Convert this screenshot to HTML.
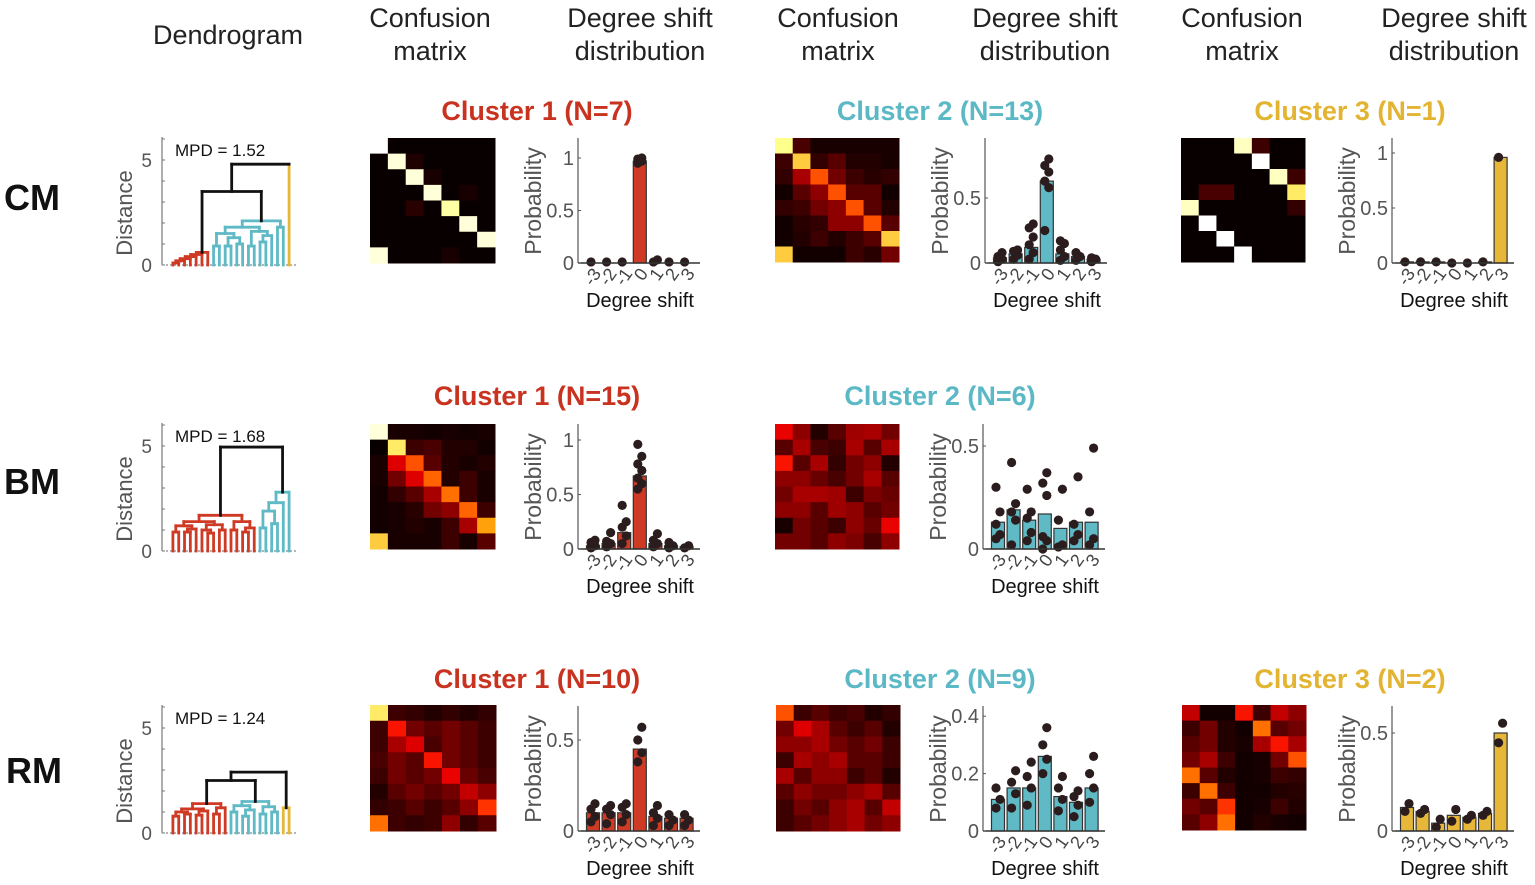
<!DOCTYPE html>
<html><head><meta charset="utf-8"><style>
html,body{margin:0;padding:0;background:#fff;}
svg{display:block;font-family:"Liberation Sans",sans-serif;}
</style></head><body>
<svg id="fig" width="1535" height="885" viewBox="0 0 1535 885">
<rect width="1535" height="885" fill="#fff"/>
<g font-size="27" fill="#222" text-anchor="middle">
<text x="228" y="44">Dendrogram</text>
<text x="430" y="27">Confusion</text><text x="430" y="60">matrix</text>
<text x="640" y="27">Degree shift</text><text x="640" y="60">distribution</text>
<text x="838" y="27">Confusion</text><text x="838" y="60">matrix</text>
<text x="1045" y="27">Degree shift</text><text x="1045" y="60">distribution</text>
<text x="1242" y="27">Confusion</text><text x="1242" y="60">matrix</text>
<text x="1454" y="27">Degree shift</text><text x="1454" y="60">distribution</text>
</g>
<g font-size="36" font-weight="bold" fill="#111" text-anchor="middle">
<text x="32" y="210">CM</text>
<text x="32" y="494">BM</text>
<text x="34" y="783">RM</text>
</g>
<g font-size="27" font-weight="bold" text-anchor="middle">
<text x="537" y="120" fill="#c8321f">Cluster 1 (N=7)</text>
<text x="940" y="120" fill="#5bb8c5">Cluster 2 (N=13)</text>
<text x="1350" y="120" fill="#e3b431">Cluster 3 (N=1)</text>
<text x="537" y="405" fill="#c8321f">Cluster 1 (N=15)</text>
<text x="940" y="405" fill="#5bb8c5">Cluster 2 (N=6)</text>
<text x="537" y="688" fill="#c8321f">Cluster 1 (N=10)</text>
<text x="940" y="688" fill="#5bb8c5">Cluster 2 (N=9)</text>
<text x="1350" y="688" fill="#e3b431">Cluster 3 (N=2)</text>
</g>
</svg>
<script>
// ---------- data ----------
const shiftCategories = ["-3","-2","-1","0","1","2","3"];
const mpdLabels = ["MPD = 1.52","MPD = 1.68","MPD = 1.24"];
// dendrogram trees: 0 = leaf, [height, left, right], {c: colour, n: node}
const dendroCM = [4.8, [3.5,
  {c:"red", n:[0.6,[0.5,[0.4,[0.3,[0.2,[0.1,0,0],0],0],0],0],0]},
  {c:"teal", n:[2.1,[1.8,[1.5,[0.9,0,0],[1.3,[0.9,0,0],[1.0,0,0]]],[1.6,[0.9,0,0],[1.4,[1.1,0,0],0]]],[1.8,0,0]]}],
  {c:"gold", n:0}];
const dendroBM = [4.95,
  {c:"red", n:[1.7,[1.4,[1.2,[0.9,0,0],[1.05,[0.9,0,0],0]],[1.25,[1.0,0,[0.85,0,0]],[1.0,0,0]]],[1.4,[1.0,0,0],[1.1,[0.9,0,0],0]]]},
  {c:"teal", n:[2.8,[2.3,[1.9,[1.1,0,0],[1.3,0,0]],0],0]}];
const dendroRM = [2.9, [2.5,
  {c:"red", n:[1.4,[1.15,[1.0,[0.8,0,0],[0.9,0,0]],[1.05,[0.85,0,0],0]],[1.2,[0.9,0,0],0]]},
  {c:"teal", n:[1.5,[1.3,[1.0,0,0],[1.1,[0.8,0,0],0]],[1.25,[0.9,0,0],[1.0,0,0]]]}],
  {c:"gold", n:[1.2,0,0]}];

// confusion matrices (8 rows x 7 cols, 0..1, hot colormap)
const cmC1 = [[1,0,0,0,0,0,0],[0,.95,.04,0,0,0,0],[0,0,.95,.03,0,0,0],[0,0,0,.95,0,.03,0],[0,0,.06,0,.88,0,0],[0,0,0,0,0,.95,0],[0,0,0,0,0,0,.95],[.95,0,0,0,.03,0,0]];
const cmC2 = [[.85,.12,.03,.03,.03,.03,.03],[.1,.75,.08,.15,.05,.05,.03],[.08,.3,.55,.2,.1,.06,.08],[.02,.15,.25,.55,.15,.15,.02],[.08,.1,.2,.25,.55,.15,.05],[.02,.06,.08,.25,.25,.55,.15],[.02,.05,.1,.05,.1,.15,.75],[.75,.02,.02,.02,.1,.06,.2]];
const cmC3 = [[0,0,0,.92,.1,0,0],[0,0,0,0,1,0,0],[0,0,0,0,0,.92,.1],[0,.12,.12,0,0,0,.8],[.92,0,0,0,0,0,.08],[0,1,0,0,0,0,0],[0,0,1,0,0,0,0],[0,0,0,1,0,0,0]];
const bmC1 = [[.95,.03,.03,.02,.03,.02,.03],[0,.8,.1,.12,.05,.05,.02],[.03,.4,.55,.15,.05,.03,.05],[.03,.2,.4,.58,.05,.1,.03],[.02,.08,.15,.3,.6,.1,.03],[.02,.03,.06,.2,.25,.58,.1],[.02,.03,.05,.03,.1,.3,.68],[.75,.03,.03,.03,.1,.03,.15]];
const bmC2 = [[.42,.25,.05,.15,.28,.3,.2],[.15,.3,.12,.1,.3,.15,.3],[.45,.15,.3,.08,.2,.25,.05],[.25,.25,.18,.12,.2,.3,.15],[.2,.3,.3,.28,.1,.22,.18],[.25,.25,.15,.28,.25,.15,.2],[.03,.2,.15,.1,.25,.18,.42],[.2,.2,.15,.25,.22,.12,.25]];
const rmC1 = [[.8,.1,.08,.05,.08,.05,.08],[.1,.45,.2,.15,.2,.15,.1],[.1,.3,.4,.12,.2,.15,.1],[.12,.2,.15,.45,.2,.15,.1],[.1,.2,.15,.2,.42,.18,.12],[.05,.15,.2,.15,.2,.35,.25],[.08,.1,.15,.1,.15,.25,.5],[.6,.1,.08,.1,.25,.08,.15]];
const rmC2 = [[.55,.1,.15,.1,.12,.05,.08],[.2,.4,.3,.15,.1,.15,.05],[.25,.25,.3,.2,.15,.2,.1],[.1,.3,.25,.3,.15,.15,.1],[.3,.15,.25,.25,.1,.15,.05],[.15,.25,.2,.2,.25,.3,.15],[.1,.2,.15,.25,.3,.15,.35],[.1,.15,.2,.25,.3,.2,.25]];
const rmC3 = [[.35,.02,.02,.45,.1,.35,.25],[.1,.2,.05,.02,.6,.15,.2],[.15,.2,.05,.03,.3,.45,.3],[.2,.3,.1,.02,.03,.2,.55],[.6,.15,.05,.02,.03,.1,.08],[.1,.6,.1,.02,.02,.05,.06],[.2,.15,.5,.02,.03,.1,.05],[.15,.25,.6,.02,.05,.03,.02]];

// bar values (mean probability per degree shift) and individual dots
const cmC1Vals = [0,0,0,0.97,0,0,0];
const cmC1Dots = [[0.01],[0.01],[0.01],[0.95,0.97,0.99,1.0],[0.01,0.03],[0.01],[0.01]];
const cmC2Vals = [0.04,0.07,0.12,0.63,0.07,0.05,0.03];
const cmC2Dots = [[0.01,0.03,0.05,0.08],[0.03,0.06,0.09,0.1],[0.03,0.08,0.14,0.2,0.27,0.3],[0.25,0.58,0.63,0.7,0.75,0.8],[0.02,0.05,0.1,0.15,0.17],[0.02,0.05,0.08],[0.01,0.03,0.04]];
const cmC3Vals = [0.01,0.01,0.01,0,0,0.01,0.96];
const cmC3Dots = [[0.01],[0.01],[0.01],[0],[0],[0.01],[0.96]];
const bmC1Vals = [0.03,0.05,0.15,0.67,0.05,0.03,0.02];
const bmC1Dots = [[0.01,0.03,0.06,0.08],[0.02,0.05,0.07,0.15],[0.05,0.12,0.2,0.25,0.4],[0.55,0.6,0.65,0.72,0.78,0.85,0.96],[0.02,0.05,0.08,0.14],[0.01,0.03,0.06],[0.01,0.03]];
const bmC2Vals = [0.13,0.19,0.14,0.17,0.10,0.13,0.13];
const bmC2Dots = [[0.05,0.07,0.12,0.18,0.3],[0.02,0.14,0.18,0.22,0.42],[0.04,0.08,0.15,0.18,0.29],[0.0,0.04,0.06,0.26,0.32,0.37],[0.01,0.02,0.14,0.29],[0.04,0.07,0.12,0.35],[0.02,0.05,0.18,0.49]];
const rmC1Vals = [0.10,0.10,0.10,0.45,0.08,0.07,0.07];
const rmC1Dots = [[0.05,0.08,0.12,0.15],[0.04,0.09,0.12,0.14],[0.05,0.09,0.13,0.15],[0.38,0.43,0.5,0.57],[0.03,0.07,0.1,0.14],[0.03,0.06,0.09],[0.03,0.06,0.09]];
const rmC2Vals = [0.11,0.15,0.15,0.26,0.12,0.10,0.15];
const rmC2Dots = [[0.08,0.11,0.15],[0.08,0.13,0.17,0.21],[0.09,0.15,0.19,0.24],[0.2,0.25,0.3,0.36],[0.07,0.11,0.15,0.19],[0.05,0.09,0.12,0.14],[0.1,0.15,0.2,0.26]];
const rmC3Vals = [0.12,0.10,0.04,0.08,0.07,0.09,0.50];
const rmC3Dots = [[0.1,0.14],[0.09,0.11],[0.02,0.06],[0.05,0.11],[0.06,0.08],[0.08,0.1],[0.45,0.55]];

const ticksHalfOne = [0,0.5,1], ticksHalf = [0,0.5], ticksTwoFour = [0,0.2,0.4];
const tickLabelsHalfOne = ["0","0.5","1"], tickLabelsHalf = ["0","0.5"], tickLabelsTwoFour = ["0","0.2","0.4"];

// ---------- drawing ----------
const NS = "http://www.w3.org/2000/svg";
const svg = document.getElementById("fig");
function mk(tag, attrs, parent) {
  const e = document.createElementNS(NS, tag);
  for (const k in attrs) e.setAttribute(k, attrs[k]);
  (parent || svg).appendChild(e);
  return e;
}
const COLORS = {red:"#cf3a24", teal:"#5fbac6", gold:"#e7b73a", black:"#111"};

function hot(v) {
  const c = x => Math.round(255 * Math.max(0, Math.min(1, x)));
  return "rgb(" + c(v * 2.1 + 0.03) + "," + c(v * 2.4 - 1.0) + "," + c(v * 3 - 2) + ")";
}

function drawMatrix(m, x, y, w, h, name) {
  const g = mk("g", {});
  
  
  const cw = w / m[0].length, ch = h / m.length;
  m.forEach((row, r) => row.forEach((v, c) => {
    const cell = mk("rect", {x: x + c * cw, y: y + r * ch, width: cw + 0.5, height: ch + 0.5, fill: hot(v)}, g);
    
    
  }));
}

function countLeaves(n) {
  if (n === 0) return 1;
  if (!Array.isArray(n)) return countLeaves(n.n);
  return countLeaves(n[1]) + countLeaves(n[2]);
}

function drawDendro(tree, ax, y0, label, name) {
  const g = mk("g", {});
  
  
  const sy = v => y0 - v * 21;
  const yl = mk("line", {x1: ax, y1: y0 - 128, x2: ax, y2: y0, stroke: "#777", "stroke-width": 1.2}, g);
  
  
  for (let t = 0; t <= 6; t++) mk("line", {x1: ax, y1: sy(t), x2: ax + 3, y2: sy(t), stroke: "#777"}, g);
  const xl = mk("line", {x1: ax, y1: y0, x2: ax + 134, y2: y0, stroke: "#888", "stroke-width": 1.2, "stroke-dasharray": "2 2"}, g);
  
  
  [[0, "0"], [5, "5"]].forEach(([v, s]) => {
    const t = mk("text", {x: ax - 10, y: sy(v) + 7, "font-size": 19, fill: "#555", "text-anchor": "end"}, g);
    t.textContent = s;
    
    
  });
  const yt = mk("text", {transform: "translate(" + (ax - 30) + "," + (y0 - 52) + ") rotate(-90)", "font-size": 22, fill: "#555", "text-anchor": "middle"}, g);
  yt.textContent = "Distance";
  
  
  const mp = mk("text", {x: ax + 13, y: y0 - 109, "font-size": 17, fill: "#111"}, g);
  mp.textContent = label;
  
  
  const n = countLeaves(tree);
  const spacing = 122 / n;
  let leafIdx = 0;
  function line(x1, y1, x2, y2, col) {
    const l = mk("line", {x1, y1, x2, y2, stroke: COLORS[col], "stroke-width": 2.8, "stroke-linecap": "square"}, g);
    
    
  }
  function walk(node, col) {
    if (node === 0) { const x = ax + 8 + spacing * (leafIdx++ + 0.5); return {x, h: 0, leaf: true, col}; }
    if (!Array.isArray(node)) { const r = walk(node.n, node.c); r.col = node.c; return r; }
    const a = walk(node[1], col), b = walk(node[2], col);
    const h = node[0];
    const ca = a.leaf ? a.col : col;
    const cb = b.leaf ? b.col : col;
    line(a.x, sy(a.h), a.x, sy(h), ca);
    line(b.x, sy(b.h), b.x, sy(h), cb);
    line(a.x, sy(h), b.x, sy(h), col);
    return {x: (a.x + b.x) / 2, h, leaf: false, col};
  }
  walk(tree, "black");
}

function drawBars(vals, dots, ticks, tickLabels, scale, ax, y0, color, name) {
  const g = mk("g", {});
  
  
  const sy = v => y0 - v * scale;
  const bx = i => ax + 15 + i * 15.6;
  vals.forEach((v, i) => {
    const r = mk("rect", {x: bx(i) - 6.5, y: sy(v), width: 13, height: Math.max(0, v * scale), fill: COLORS[color], stroke: "#333", "stroke-width": 1.2}, g);
    
    
  });
  dots.forEach((arr, i) => arr.forEach((v, k) => {
    const c = mk("circle", {cx: bx(i) + (k % 2 ? 2 : -2), cy: sy(v), r: 4.6, fill: "#2b1d1d"}, g);
    
    
  }));
  const yl = mk("line", {x1: ax, y1: y0 - 125, x2: ax, y2: y0, stroke: "#555", "stroke-width": 1.2}, g);
  
  
  const xl = mk("line", {x1: ax, y1: y0, x2: ax + 122, y2: y0, stroke: "#333", "stroke-width": 1.5}, g);
  
  
  ticks.forEach((t, i) => {
    mk("line", {x1: ax, y1: sy(t), x2: ax + 3, y2: sy(t), stroke: "#555"}, g);
    const tx = mk("text", {x: ax - 4, y: sy(t) + 7, "font-size": 20, fill: "#555", "text-anchor": "end"}, g);
    tx.textContent = tickLabels[i];
    
    
  });
  shiftCategories.forEach((s, i) => {
    const tx = mk("text", {transform: "translate(" + (bx(i) + 5) + "," + (y0 + 8) + ") rotate(-55)", "font-size": 18, fill: "#444", "text-anchor": "end", "dominant-baseline": "middle"}, g);
    tx.textContent = s;
    
    
  });
  const xt = mk("text", {x: ax + 62, y: y0 + 44, "font-size": 20, fill: "#111", "text-anchor": "middle"}, g);
  xt.textContent = "Degree shift";
  
  
  const yt = mk("text", {transform: "translate(" + (ax - 37) + "," + (y0 - 62) + ") rotate(-90)", "font-size": 23, fill: "#555", "text-anchor": "middle"}, g);
  yt.textContent = "Probability";
  
  
}

// row CM
drawDendro(dendroCM, 162, 265, mpdLabels[0], "dendrogram-cm");
drawMatrix(cmC1, 370, 138, 125, 125, "confusion-matrix-cm-1");
drawBars(cmC1Vals, cmC1Dots, ticksHalfOne, tickLabelsHalfOne, 105, 578, 263, "red", "degree-chart-cm-1");
drawMatrix(cmC2, 775, 138, 124, 124, "confusion-matrix-cm-2");
drawBars(cmC2Vals, cmC2Dots, ticksHalf, tickLabelsHalf, 130, 985, 263, "teal", "degree-chart-cm-2");
drawMatrix(cmC3, 1181, 138, 124, 124, "confusion-matrix-cm-3");
drawBars(cmC3Vals, cmC3Dots, ticksHalfOne, tickLabelsHalfOne, 110, 1392, 263, "gold", "degree-chart-cm-3");
// row BM
drawDendro(dendroBM, 162, 551, mpdLabels[1], "dendrogram-bm");
drawMatrix(bmC1, 370, 424, 125, 125, "confusion-matrix-bm-1");
drawBars(bmC1Vals, bmC1Dots, ticksHalfOne, tickLabelsHalfOne, 109, 578, 549, "red", "degree-chart-bm-1");
drawMatrix(bmC2, 775, 424, 124, 125, "confusion-matrix-bm-2");
drawBars(bmC2Vals, bmC2Dots, ticksHalf, tickLabelsHalf, 206, 983, 549, "teal", "degree-chart-bm-2");
// row RM
drawDendro(dendroRM, 162, 833, mpdLabels[2], "dendrogram-rm");
drawMatrix(rmC1, 370, 705, 126, 126, "confusion-matrix-rm-1");
drawBars(rmC1Vals, rmC1Dots, ticksHalf, tickLabelsHalf, 182, 578, 831, "red", "degree-chart-rm-1");
drawMatrix(rmC2, 776, 705, 124, 126, "confusion-matrix-rm-2");
drawBars(rmC2Vals, rmC2Dots, ticksTwoFour, tickLabelsTwoFour, 287, 983, 831, "teal", "degree-chart-rm-2");
drawMatrix(rmC3, 1182, 705, 124, 125, "confusion-matrix-rm-3");
drawBars(rmC3Vals, rmC3Dots, ticksHalf, tickLabelsHalf, 196, 1392, 831, "gold", "degree-chart-rm-3");
</script>
</body></html>
